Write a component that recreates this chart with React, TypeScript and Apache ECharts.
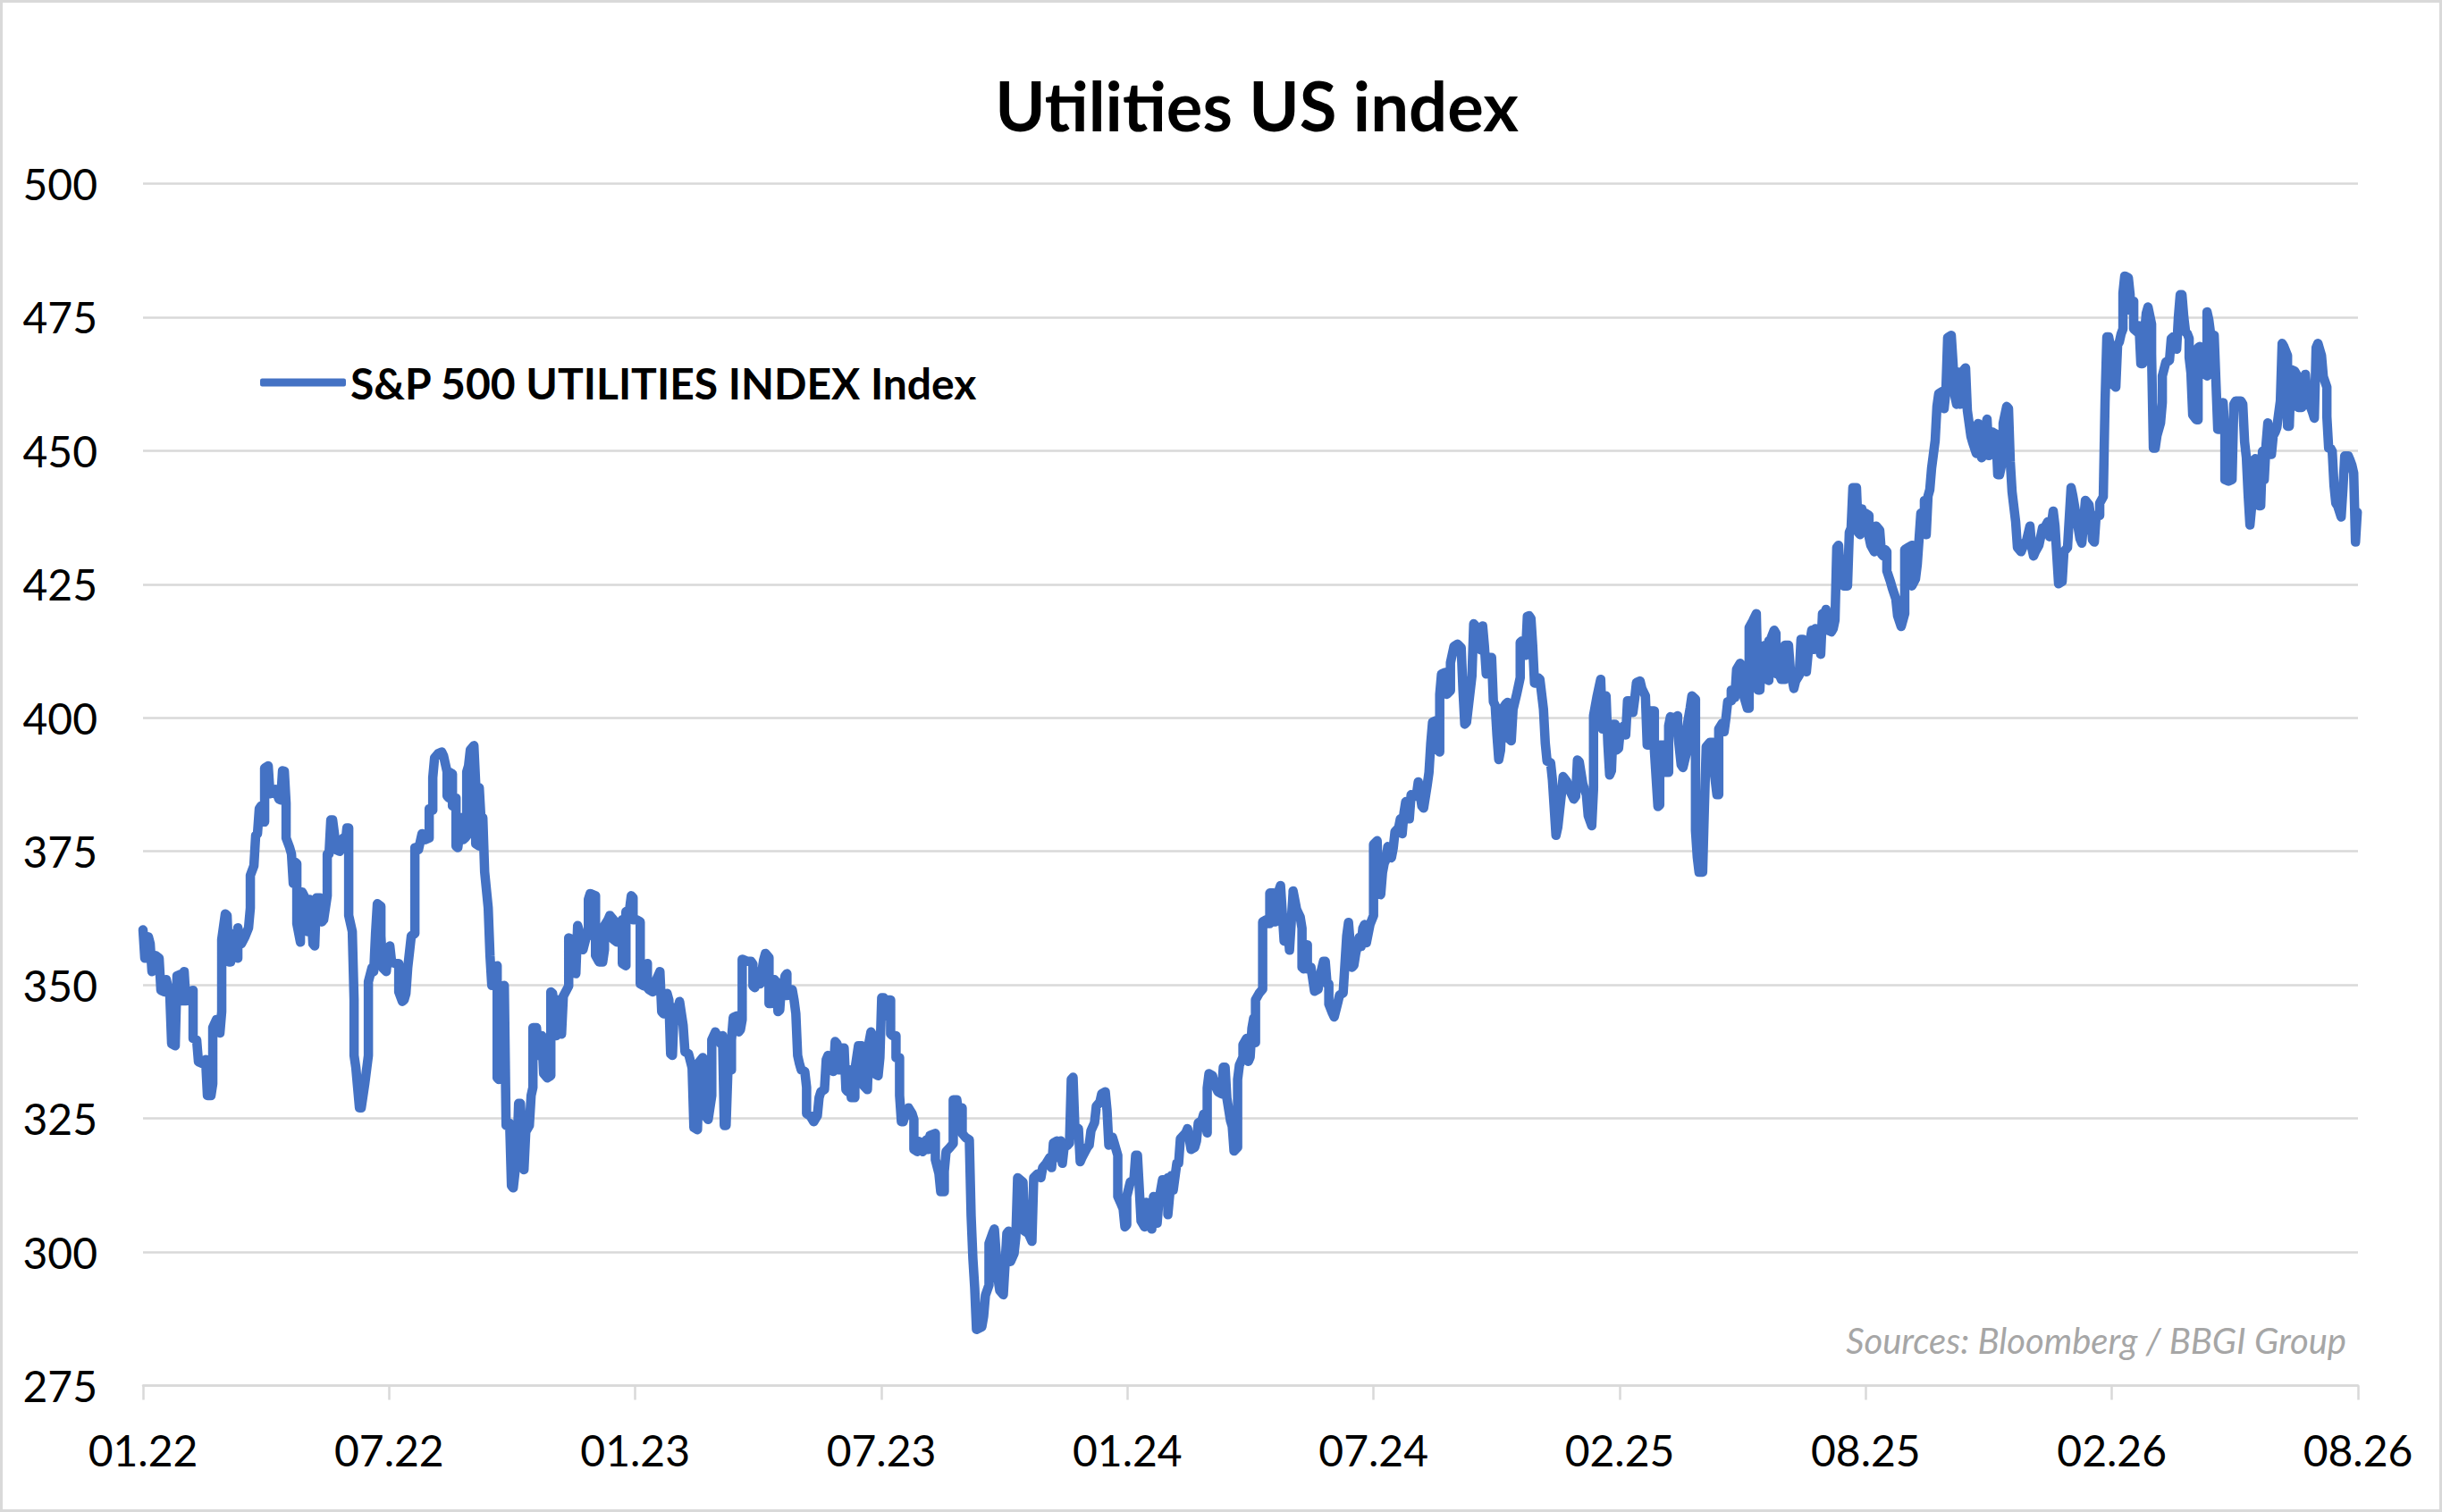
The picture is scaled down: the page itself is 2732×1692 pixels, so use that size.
import React, { useEffect, useRef } from "react";
import * as echarts from "echarts";

// x = trading-session index from the first session (Jan 2022); y = index level
const seriesName = "S&P 500 UTILITIES INDEX Index";
const chartTitle = "Utilities US index";
const sourceNote = "Sources: Bloomberg / BBGI Group";

const xTickLabels = ["01.22", "07.22", "01.23", "07.23", "01.24", "07.24", "02.25", "08.25", "02.26", "08.26"];
const sessionsPerTick = 137.6;
const yMin = 275;
const yMax = 500;
const yStep = 25;

const segA: number[][] = [
  [0, 360.3], [1, 355], [3, 359], [4, 357.7], [5, 352.5], [7, 355.5], [9, 355], [10, 349], [12, 348.7], [13, 351],
  [15, 348], [16, 339], [18, 338.6], [19, 351.7], [21, 352], [22, 347], [23, 352.5], [24, 347], [26, 348.7], [28, 349],
  [28, 340], [30, 339.7], [31, 335.6], [33, 335.3], [35, 336], [36, 329.3], [38, 329.3], [39, 331.5], [39, 342], [41, 343.5],
  [43, 341], [44, 345], [44, 358.5], [46, 363.3], [47, 363], [48, 354.3], [49, 354.3], [51, 359.6], [53, 355], [53, 360.7],
  [55, 357.7], [57, 359], [59, 360.7], [60, 364.4], [60, 370.5], [62, 372.3], [63, 378], [64, 378.3], [65, 383], [66, 383.5],
  [67, 381], [68, 380.5], [68, 390.6], [70, 391], [71, 385.8], [73, 386], [74, 386.6], [76, 384.8], [77, 384.6], [78, 390.1],
  [79, 390], [80, 384], [80, 377.5], [82, 375.7], [83, 374.5], [84, 369], [85, 373], [86, 372.7], [86, 361.5], [88, 358],
  [88, 360], [89, 367.4], [90, 366.7], [92, 360], [93, 366], [94, 363.7], [95, 357.7], [96, 357.3], [97, 366.3], [99, 366.3],
  [100, 361.8], [101, 362.2], [103, 366.7], [103, 374.5], [104, 374.5], [105, 380.9], [106, 380.9], [107, 378.3], [108, 375.3], [110, 375],
  [112, 377.5], [113, 376], [114, 379.4], [115, 379.4], [115, 363], [117, 360], [118, 347.2], [118, 336.8], [119, 334.5], [121, 327],
  [122, 327], [124, 331.5], [126, 336.8], [126, 350.6], [128, 353.2], [129, 352.5], [130, 359.6], [131, 365.2], [133, 364.7], [133, 359.2],
  [134, 353.2], [136, 352.5], [137, 356.2], [138, 357.3], [139, 354.3], [141, 354], [143, 354], [143, 348.7], [145, 346.9], [146, 347.2],
  [147, 348.4], [148, 353.2], [149, 356.2], [150, 359.2], [152, 359.6], [152, 372.7], [152, 375.7], [154, 375.3],
];

const segB: number[][] = [
  [156, 378.3], [158, 377.2], [160, 377.5], [160, 383], [162, 382.7], [162, 388.8], [163, 392.5], [165, 393.3], [167, 393.6], [168, 392.9],
  [170, 389.9], [170, 385.4], [171, 385], [171, 389.9], [173, 389.5], [173, 383.5], [175, 385], [175, 377.9], [175, 376], [176, 375.7],
  [177, 378.3], [178, 381.3], [179, 377.2], [180, 377.5], [181, 377.9], [181, 389.9], [182, 391], [183, 394], [185, 394.8], [186, 387.7],
  [186, 384.6], [186, 376.4], [188, 376], [188, 386.9], [189, 380.9], [190, 381.3], [191, 371.2], [193, 364.4], [194, 355.5], [195, 349.9],
  [196, 353.2], [198, 353.6], [198, 339], [198, 332.6], [199, 332.3], [199, 349.3], [200, 338.2], [202, 349.9], [203, 323.7], [204, 323.7],
  [205, 324.1], [206, 312.4], [207, 312], [208, 315], [209, 317.7], [210, 327.8], [211, 327.8], [213, 315.8], [213, 315.4], [214, 322.5],
  [216, 323.7], [217, 329.3], [218, 330.8], [218, 342], [220, 342], [221, 336.8], [222, 340.5], [223, 340.5], [224, 333.4], [226, 332.6],
  [228, 333], [228, 348.7], [229, 348.4], [231, 340.5], [232, 347.2], [233, 341.2], [234, 340.8], [235, 347.9], [238, 349.8], [238, 356.2],
  [238, 358.8], [240, 358.5], [241, 352.5], [242, 352.1], [243, 361.1], [244, 360], [245, 357.3], [246, 356.6], [248, 359.2], [249, 359.2],
  [249, 366], [250, 367.1], [253, 366.7], [253, 355.5], [255, 354.3], [257, 354.3], [258, 356.6], [258, 361.1], [260, 362.2], [261, 363],
  [263, 362.2], [263, 358.5], [265, 358], [265, 361.1], [267, 361.8], [268, 362.2], [268, 354], [270, 353.6], [270, 363.7], [272, 364.1],
  [273, 366.7], [274, 366.3], [274, 362.2], [276, 362.2], [278, 361.8], [278, 350.2], [280, 349.8], [282, 354], [282, 349.5], [283, 349.1],
  [285, 348.7], [286, 350.2], [288, 351.7], [289, 352.5], [290, 345], [291, 344.6], [293, 348.4], [294, 347.2], [295, 337.1], [296, 336.8],
  [297, 345.7], [298, 344.2], [300, 346.9], [302, 342.4], [303, 337.5], [305, 337.1], [307, 334.5], [308, 323.3], [310, 322.9], [311, 335.6],
  [313, 336.4], [313, 332.3], [315, 325.2],
];

const segC: number[][] = [
  [316, 324.8], [318, 329.3], [318, 339.7], [320, 341.2], [321, 340.5], [323, 339], [324, 340.5], [325, 323.7], [326, 323.7], [327, 333.8],
  [329, 334.1], [329, 339.7], [330, 343.9], [332, 344.2], [333, 341.2], [334, 341.6], [335, 343.5], [335, 352.5], [335, 354.8], [338, 354.4],
  [340, 354.4], [341, 353.9], [341, 349.8], [342, 349.5], [343, 350.2], [344, 352.5], [345, 350.2], [347, 354.7], [348, 355.9], [350, 355.1],
  [350, 346.5], [351, 346.5], [353, 351], [354, 350.6], [355, 345], [356, 345.3], [357, 350.2], [358, 349.8], [359, 351.7], [360, 352.1],
  [360, 348], [363, 349.1], [364, 347.2], [365, 344.6], [366, 336.8], [367, 335.3], [368, 334.1], [370, 333.8], [371, 330.8], [371, 325.9],
  [373, 325.5], [375, 324.4], [377, 325.5], [378, 328.9], [379, 330], [381, 330.4], [382, 336], [383, 336.8], [385, 334.1], [386, 333.8],
  [387, 339.4], [388, 339], [389, 334.1], [390, 338.2], [392, 338.2], [393, 330.4], [394, 330], [395, 334.1], [396, 328.9], [398, 328.9],
  [398, 334.1], [400, 338.6], [402, 338.6], [402, 332.3], [403, 331.1], [405, 330.4], [406, 339.4], [407, 341.2], [408, 340.5], [409, 333.4],
  [411, 333], [412, 336.4], [413, 347.6], [414, 347.6], [415, 344.2], [416, 347.2], [418, 347.2], [418, 340.8], [419, 340.5], [421, 340.5],
  [421, 336.4], [423, 336.4], [423, 329.3], [424, 324.4], [425, 324.4], [426, 325.5], [428, 327], [430, 325.9], [431, 324.8], [431, 319.2],
  [433, 318.8], [434, 320.7], [436, 318.8], [438, 321], [439, 319.2], [440, 321.8], [443, 322.2], [443, 317.3], [445, 314.7], [446, 311.3],
  [448, 311.3], [448, 315.1], [449, 318.8], [451, 319.5], [453, 320.3], [453, 328.5], [455, 328.5], [456, 325.9], [458, 327], [458, 322.2],
  [460, 321.4], [462, 321], [463, 306.8], [464, 298.7], [465, 293.3], [466, 285.5], [469, 286], [470, 288], [471, 291.9], [473, 293.8],
  [473, 301.6], [475, 303.5],
];

const segD: number[][] = [
  [476, 304.3], [478, 295.1], [479, 292.8], [481, 292], [483, 303.5], [484, 303.9], [485, 298.2], [487, 299.7], [488, 302.8], [489, 313.9],
  [492, 313.1], [493, 303.9], [495, 303.5], [497, 302], [498, 313.9], [500, 314.6], [502, 313.9], [503, 315.8], [505, 316.6], [507, 317.7],
  [508, 315.8], [509, 320.4], [511, 320.8], [511, 317.7], [513, 320.8], [514, 316.6], [515, 319.6], [517, 320], [518, 320.4], [519, 332.3],
  [520, 332.7], [521, 323.5], [523, 323.1], [524, 316.9], [525, 317.7], [528, 319.6], [529, 320], [530, 322.7], [532, 324.2], [533, 327.3],
  [535, 328.1], [536, 329.6], [538, 330], [539, 326.5], [540, 320], [542, 321.5], [543, 320.4], [545, 318.1], [545, 310.4], [547, 308.9],
  [548, 308.1], [549, 304.7], [550, 305.1], [550, 310.4], [552, 313.1], [554, 313.5], [555, 318.1], [556, 318.1], [557, 312], [558, 305.8],
  [560, 304.7], [561, 309.3], [563, 305.1], [564, 304.3], [565, 310.4], [567, 305.4], [568, 309.7], [570, 313.5], [571, 313.5], [572, 309.7],
  [573, 313.9], [573, 307], [575, 314.3], [576, 311.6], [578, 316.6], [579, 316.6], [580, 321.2], [583, 322.3], [584, 323.1], [586, 319.2],
  [588, 319.6], [589, 320.8], [590, 324.2], [592, 324.6], [593, 325.8], [595, 322.3], [595, 330.7], [596, 333.4], [598, 333], [599, 331.5],
  [601, 330], [603, 329.6], [604, 334.6], [605, 334.6], [606, 328.8], [608, 324.6], [609, 323.5], [610, 318.9], [612, 319.6], [612, 332.3],
  [613, 335], [615, 336.5], [615, 338.8], [617, 340], [618, 335.7], [619, 336.5], [620, 341.9], [621, 343.8], [622, 339.2], [622, 347.2],
  [624, 348.4], [626, 349.2], [626, 356.1], [626, 361.8], [628, 362.2], [629, 361.5], [630, 361.5], [630, 367.2], [632, 367.2], [633, 361.8],
  [635, 367.6],
];

const segE: number[][] = [
  [636, 368.6], [638, 358.2], [639, 361.7], [640, 361.3], [641, 356.5], [643, 367.2], [643, 367.6], [645, 364.1], [647, 362.7], [648, 360.6],
  [648, 353.3], [649, 353], [651, 357.5], [651, 353], [653, 353.3], [655, 348.8], [657, 349.2], [658, 351.6], [660, 354.4], [661, 354.4],
  [662, 350.2], [663, 350.2], [663, 346.4], [665, 344.7], [666, 344], [668, 346.7], [669, 348.1], [671, 348.5], [673, 359.2], [674, 361.7],
  [676, 353.3], [677, 353.7], [678, 355.8], [680, 358.9], [681, 357.2], [682, 360.6], [683, 361.3], [684, 357.9], [686, 361.3], [688, 363],
  [688, 376.3], [690, 377], [691, 367.6], [692, 366.9], [693, 371], [694, 372.8], [695, 373.5], [696, 375.9], [698, 373.8], [699, 375.6],
  [700, 378.7], [702, 379.4], [703, 381.1], [704, 378.3], [705, 382.2], [706, 384.3], [708, 381.1], [709, 385.6], [711, 385.3], [712, 385.6],
  [713, 388], [715, 383.5], [716, 383.1], [718, 387.4], [719, 389.8], [720, 395.3], [721, 399.2], [723, 399.5], [724, 394], [725, 393.6],
  [725, 404.4], [726, 408.2], [728, 408.5], [729, 404.4], [731, 405.1], [731, 410.3], [733, 413.4], [735, 413.8], [737, 413.1], [738, 405.1],
  [739, 398.8], [740, 399.2], [743, 407.8], [744, 417.6], [745, 417.2], [747, 413.1], [748, 412.7], [749, 417.2], [750, 413.4], [751, 408.2],
  [753, 408.5], [753, 411.3], [754, 411.3], [755, 403], [756, 402.3], [757, 396.7], [758, 392.2], [759, 393.9], [760, 401.6], [762, 402.6],
  [763, 402.9], [764, 396], [765, 395.7], [766, 401.6], [768, 404.4], [770, 407.5], [770, 414.1], [771, 414.4], [773, 411.7], [774, 419],
  [775, 419.1], [776, 418.6], [777, 413.4], [778, 406.5], [780, 407.5], [781, 407.2], [783, 401.6], [784, 395.3], [785, 391.9], [787, 391.6],
  [788, 388.4], [790, 378],
];

const segF: number[][] = [
  [791, 379.5], [793, 385.6], [794, 389], [796, 388.1], [798, 386.2], [800, 384.8], [801, 385.3], [802, 392.1], [803, 391.8], [805, 387.6],
  [807, 385.6], [808, 381.7], [810, 379.8], [811, 386.7], [811, 400.4], [813, 404.1], [815, 407.2], [816, 397.9], [817, 404.1], [818, 404.1],
  [819, 395.1], [820, 389.3], [821, 390.1], [822, 398.8], [823, 398.8], [824, 394], [825, 394.3], [826, 397.9], [828, 398.5], [829, 396.8],
  [830, 403.2], [831, 403.2], [833, 401], [834, 403.5], [835, 406.6], [837, 406.9], [838, 405.5], [840, 404.1], [841, 394.9], [843, 394.9],
  [843, 401.3], [845, 401.3], [845, 394], [847, 383.4], [848, 383.7], [848, 394.9], [850, 394.9], [851, 389.8], [853, 389.8], [853, 398.5],
  [854, 400.2], [856, 399.9], [858, 400.4], [858, 397.4], [860, 391.2], [861, 390.7], [863, 393.5], [863, 397.9], [865, 401.8], [866, 404.1],
  [868, 403.5], [868, 378.9], [869, 373.9], [870, 371.1], [872, 371.1], [873, 383.4], [874, 394.6], [876, 395.4], [878, 395.4], [878, 391.2],
  [880, 385.6], [881, 385.6], [881, 397.9], [883, 399], [884, 397.4], [885, 399.9], [886, 403], [888, 403.2], [888, 405.2], [890, 403.8],
  [891, 409.1], [893, 410.2], [894, 404.6], [895, 404.1], [897, 401.8], [898, 401.8], [898, 416.9], [900, 418.1], [902, 419.5], [903, 405.2],
  [904, 405.2], [905, 413.3], [907, 413.6], [908, 407.2], [909, 407], [909, 414.4], [910, 414.7], [912, 416.4], [913, 415.8], [913, 408.3],
  [915, 408], [916, 407.2], [918, 407.2], [918, 413.6], [920, 413.6], [921, 409.1], [923, 405.5], [924, 406.9], [926, 408], [927, 414.7],
  [928, 414.7], [930, 408.6], [931, 412.2], [933, 416.4], [934, 412.8], [935, 416.7], [936, 416.4], [938, 411.9], [939, 419.5], [940, 419.5],
  [941, 420.3], [942, 416.4], [944, 416.1],
];

const segG: number[][] = [
  [945, 416.7], [946, 418.3], [947, 431.9], [948, 432.3], [949, 426.3], [951, 424.7], [953, 424.7], [954, 434.7], [955, 435.5], [956, 443.1],
  [958, 443.1], [959, 434.7], [960, 434.3], [961, 439.1], [962, 435.5], [963, 438.3], [965, 437.9], [965, 433.9], [966, 432.3], [968, 431.1],
  [969, 435.9], [971, 435.1], [972, 430.7], [973, 430.3], [974, 431.5], [975, 431.1], [975, 427.5], [977, 425.5], [978, 424.3], [980, 422.3],
  [981, 419.1], [983, 417.1], [985, 419.5], [985, 431.5], [987, 431.9], [989, 432.3], [989, 424.7], [991, 426], [992, 428.7], [993, 433.5],
  [994, 438.3], [996, 438.3], [996, 440.7], [997, 434.3], [998, 441.5], [999, 442.7], [1000, 446.7], [1002, 451.9], [1003, 458.3], [1004, 460.7],
  [1006, 461.1], [1007, 457.9], [1008, 461.1], [1009, 471.2], [1011, 471.6], [1012, 466.3], [1013, 460.3], [1014, 458.7], [1015, 464.7], [1016, 458.7],
  [1018, 465.1], [1019, 465.5], [1020, 457.5], [1022, 452.7], [1023, 451.5], [1025, 449.5], [1026, 455.1], [1028, 448.7], [1029, 452.7], [1031, 455.9],
  [1032, 449.1], [1033, 452.7], [1034, 453.5], [1036, 453.1], [1037, 445.5], [1038, 445.5], [1040, 448.7], [1040, 455.1], [1042, 458.3], [1043, 457.9],
  [1044, 447.9], [1045, 442.3], [1047, 436.7], [1048, 431.9], [1050, 431.1], [1052, 432.7], [1053, 433.1], [1055, 435.9], [1056, 431.9], [1057, 430.3],
  [1058, 431.1], [1060, 432.3], [1062, 435.5], [1063, 435.5], [1065, 436.7], [1066, 433.9], [1068, 438.7], [1069, 435.9], [1071, 425.1], [1073, 425.5],
  [1074, 431.1], [1076, 431.9], [1078, 443.1], [1079, 441.5], [1081, 437.5], [1083, 433.5], [1084, 432.7], [1086, 440.7], [1088, 439.9], [1089, 437.5],
  [1090, 433.3],
];

const segH: number[][] = [
  [1091, 432.9], [1092, 437.9], [1094, 437.9], [1094, 440.2], [1096, 441.4], [1097, 459.3], [1098, 471.3], [1099, 471.3], [1100, 469.5], [1102, 462.2],
  [1103, 461.9], [1104, 469.8], [1105, 470.4], [1106, 471.9], [1107, 472.8], [1107, 479.5], [1108, 482.7], [1110, 482.4], [1111, 479.2], [1111, 476.3],
  [1113, 478], [1113, 472.8], [1115, 472.2], [1116, 473.4], [1117, 466.3], [1118, 466.3], [1119, 471.6], [1120, 475.7], [1121, 476.9], [1123, 473.7],
  [1123, 468.1], [1124, 450.5], [1125, 450.5], [1126, 452.8], [1128, 455.2], [1129, 459], [1129, 464], [1131, 466.6], [1133, 466.9], [1134, 471],
  [1135, 471.3], [1135, 469.3], [1137, 469], [1138, 475.1], [1139, 479.2], [1140, 479.2], [1141, 475.1], [1142, 472.2], [1143, 471.9], [1144, 471],
  [1144, 467.5], [1145, 464.6], [1146, 456.7], [1148, 455.8], [1149, 455.8], [1149, 469.3], [1150, 469.5], [1152, 466.9], [1153, 464.3], [1154, 464],
  [1154, 476], [1155, 474.5], [1156, 471.9], [1158, 471.6], [1159, 462.8], [1160, 454], [1161, 454], [1163, 459], [1164, 453.4], [1164, 444.6],
  [1166, 444.3], [1168, 444.6], [1169, 458.7], [1170, 459.3], [1173, 459.3], [1174, 458.7], [1175, 451.7], [1176, 448.7], [1177, 441.7], [1178, 436.1],
  [1179, 439.7], [1180, 448.2], [1181, 448.5], [1183, 439.7], [1184, 439.7], [1185, 449.9], [1186, 444.6], [1187, 451.1], [1188, 455.2], [1190, 449.3],
  [1191, 452.8], [1192, 453.4], [1193, 454.3], [1195, 459.3], [1196, 470.1], [1197, 469.5], [1199, 467.8], [1199, 454.6], [1200, 454.6], [1201, 465.2],
  [1203, 464.9], [1204, 464.3], [1205, 458.1], [1207, 458.1], [1208, 463.1], [1209, 464.3], [1210, 459.9], [1213, 457.2], [1214, 456.1], [1215, 469.3],
  [1216, 470.1], [1218, 467.8], [1219, 463.9], [1221, 461.9], [1221, 456.4], [1222, 450.5], [1223, 450.5], [1224, 449.9], [1225, 443.5], [1226, 440.2],
  [1227, 439.7], [1229, 437.6], [1230, 442.9], [1231, 449], [1233, 449], [1234, 448.2], [1235, 447.3], [1236, 445.8], [1237, 432.9], [1238, 438.5],
];

const seriesPoints = [...segA, ...segB, ...segC, ...segD, ...segE, ...segF, ...segG, ...segH];

export default function App() {
  const ref = useRef<HTMLDivElement>(null);

  useEffect(() => {
    if (!ref.current) return;
    const chart = echarts.init(ref.current, null, { renderer: "svg" });
    const font = "Lato";
    const xMax = sessionsPerTick * (xTickLabels.length - 1);

    chart.setOption({
      animation: false,
      backgroundColor: "#ffffff",
      grid: { left: 160, right: 94, top: 205.5, bottom: 141.5, containLabel: false },
      legend: {
        show: true,
        left: 291,
        top: 404,
        padding: 0,
        itemWidth: 96,
        itemHeight: 9,
        icon: "roundRect",
        data: [seriesName],
        textStyle: { fontFamily: font, fontWeight: "bold", fontSize: 48, color: "#000000" },
      },
      xAxis: {
        type: "value",
        min: 0,
        max: xMax,
        interval: sessionsPerTick,
        splitLine: { show: false },
        axisLine: { show: true, lineStyle: { color: "#d9d9d9", width: 2.5 } },
        axisTick: { show: true, length: 16, lineStyle: { color: "#d9d9d9", width: 2.5 } },
        axisLabel: {
          show: true,
          margin: 48,
          fontFamily: font,
          fontSize: 48,
          color: "#000000",
          formatter: (v: number) => xTickLabels[Math.round(v / sessionsPerTick)] ?? "",
        },
      },
      yAxis: {
        type: "value",
        min: yMin,
        max: yMax,
        interval: yStep,
        axisLine: { show: false },
        axisTick: { show: false },
        splitLine: { show: true, lineStyle: { color: "#d9d9d9", width: 2.5 } },
        axisLabel: { margin: 51, fontFamily: font, fontSize: 48, color: "#000000" },
      },
      series: [
        {
          name: seriesName,
          type: "line",
          data: seriesPoints,
          showSymbol: false,
          symbol: "none",
          clip: true,
          color: "#4472c4",
          lineStyle: { color: "#4472c4", width: 10.5, cap: "round", join: "round" },
        },
      ],
      graphic: [
        {
          type: "rect",
          shape: { x: 1.5, y: 1.5, width: 2729, height: 1689 },
          style: { fill: "none", stroke: "#d9d9d9", lineWidth: 3 },
          silent: true,
        },
        {
          type: "text",
          x: 1406,
          y: 117,
          style: {
            text: chartTitle,
            font: `bold 76px ${font}`,
            fill: "#000000",
            textAlign: "center",
            textVerticalAlign: "middle",
            verticalAlign: "middle",
          },
        },
        {
          type: "text",
          x: 2625,
          y: 1500,
          style: {
            text: sourceNote,
            font: `italic 40px ${font}`,
            fill: "#a6a6a6",
            textAlign: "right",
            textVerticalAlign: "middle",
            verticalAlign: "middle",
          },
        },
      ],
    });

    return () => chart.dispose();
  }, []);

  return (
    <div
      ref={ref}
      style={{ position: "fixed", left: 0, top: 0, width: 2732, height: 1692, background: "#ffffff" }}
    />
  );
}
